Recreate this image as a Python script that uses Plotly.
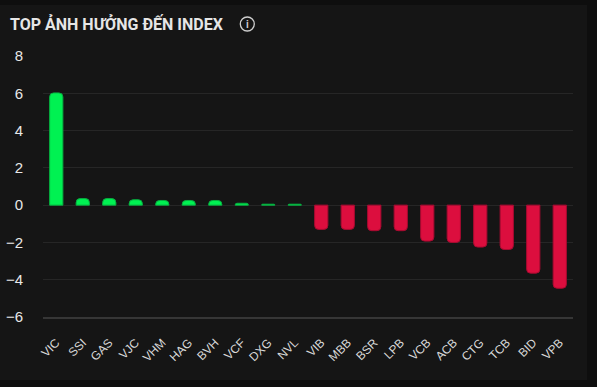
import plotly.graph_objects as go

# ---- data ----
tickers = ["VIC", "SSI", "GAS", "VJC", "VHM", "HAG", "BVH", "VCF", "DXG", "NVL",
           "VIB", "MBB", "BSR", "LPB", "VCB", "ACB", "CTG", "TCB", "BID", "VPB"]
impact = [6.02, 0.35, 0.35, 0.29, 0.25, 0.25, 0.25, 0.1, 0.05, 0.05,
          -1.3, -1.3, -1.37, -1.37, -1.93, -2.0, -2.25, -2.38, -3.65, -4.46]
y_ticks = [-6, -4, -2, 0, 2, 4, 6, 8]
title_text = "TOP ẢNH HƯỞNG ĐẾN INDEX"

# ---- layout constants ----
W, H = 597, 387
ML, MR, MT, MB = 43, 24, 56, 70
PW, PH = W - ML - MR, H - MT - MB

def px_x(p):
    return (p - ML) / PW

def px_y(p):
    return (H - MB - p) / PH

GREEN = "#00f152"
RED = "#dc0e3e"
colors = [GREEN if v >= 0 else RED for v in impact]
line_colors = ["#06b040" if v >= 0 else "#a80a30" for v in impact]

fig = go.Figure(go.Bar(
    x=tickers, y=impact,
    marker=dict(color=colors, line=dict(color=line_colors, width=1), cornerradius=4),
    hoverinfo="x+y",
))

fig.update_layout(
    width=W, height=H,
    margin=dict(l=ML, r=MR, t=MT, b=MB, pad=0),
    paper_bgcolor="#0e0e0e",
    plot_bgcolor="rgba(0,0,0,0)",
    bargap=0.5,
    showlegend=False,
    font=dict(family="Liberation Sans, Arial, sans-serif", color="#e6e6e6"),
    xaxis=dict(
        type="category",
        tickangle=-45,
        tickfont=dict(size=12, color="#d8d8d8"),
        showgrid=False,
        showline=True, linecolor="#363636", linewidth=2,
        ticks="",
        ticklabelstandoff=12,
        automargin=False,
        fixedrange=True,
    ),
    yaxis=dict(
        range=[-6, 8],
        tickvals=y_ticks,
        tickfont=dict(size=15, color="#e8e8e8"),
        showgrid=True, gridcolor="#262626", gridwidth=1,
        zeroline=True, zerolinecolor="#262626", zerolinewidth=1,
        showline=False, ticks="",
        ticklabelstandoff=19,
        automargin=False,
        fixedrange=True,
    ),
    shapes=[
        dict(type="rect", xref="paper", yref="paper", layer="below",
             x0=px_x(0), x1=px_x(587), y0=px_y(380), y1=px_y(5),
             fillcolor="#151515", line=dict(width=0)),
        dict(type="circle", xref="paper", yref="paper",
             xsizemode="pixel", ysizemode="pixel",
             xanchor=px_x(247.3), yanchor=px_y(24),
             x0=-7, x1=7, y0=-7, y1=7,
             line=dict(color="#cfcfcf", width=1.3)),
    ],
    annotations=[
        dict(text=title_text, xref="paper", yref="paper",
             x=px_x(8), y=px_y(24), xanchor="left", yanchor="middle",
             showarrow=False,
             font=dict(family="Roboto, sans-serif", size=16, color="#e6e6e6", weight="bold")),
        dict(text="<b>i</b>", xref="paper", yref="paper",
             x=px_x(247.5), y=px_y(24), xanchor="center", yanchor="middle",
             showarrow=False,
             font=dict(family="Liberation Sans, sans-serif", size=10, color="#cfcfcf")),
    ],
)

fig.write_html("out.html")
